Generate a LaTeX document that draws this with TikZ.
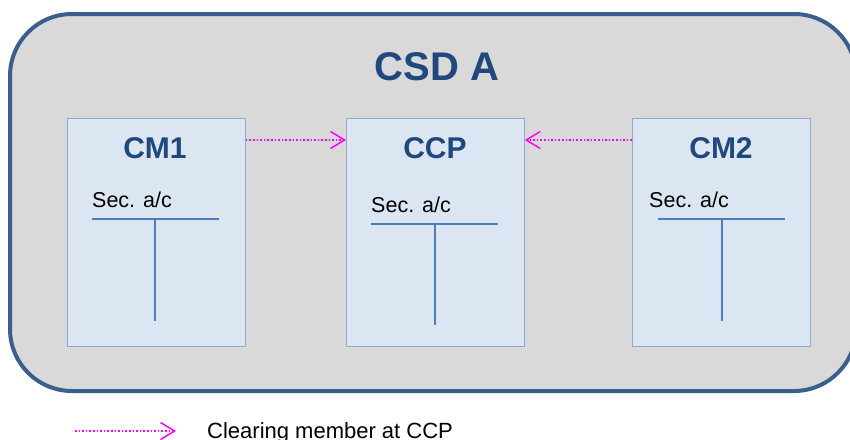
\documentclass[tikz,border=0pt]{standalone}
\usepackage{fontspec}
\setmainfont{Liberation Sans}
\usetikzlibrary{arrows.meta}
\definecolor{outerfill}{HTML}{D9D9D9}
\definecolor{outerline}{HTML}{3B5F8D}
\definecolor{boxfill}{HTML}{DCE6F2}
\definecolor{boxline}{HTML}{8EA9CD}
\definecolor{titleblue}{HTML}{1F497D}
\definecolor{tline}{HTML}{4A7EBB}
\definecolor{mag}{HTML}{FF00FF}
\tikzset{
  x=1pt, y=-1pt,
  membox/.style={draw=boxline, line width=0.8pt, fill=boxfill, minimum width=178pt, minimum height=228pt, inner sep=0pt, anchor=north west},
  boxtitle/.style={text=titleblue, font=\fontsize{30}{36}\selectfont\bfseries, inner sep=0pt, anchor=base},
  seclabel/.style={font=\fontsize{21.5}{26}\selectfont, inner sep=0pt, anchor=base west},
  tl/.style={draw=tline, line width=1.6pt},
  cmarrow/.style={draw=mag, line width=1.6pt, dotted, -{Straight Barb[length=14pt, width=17pt, line width=1.5pt]}},
}
\begin{document}
\begin{tikzpicture}
\useasboundingbox (0,0) rectangle (850,439);
\draw[fill=outerfill, draw=outerline, line width=4pt, rounded corners=62pt] (10,14) rectangle (856,391);
\node[text=titleblue, font=\fontsize{40}{48}\selectfont\bfseries, inner sep=0pt, anchor=base] (csd) at (437,80) {CSD A};
% boxes
\node[membox] (cm1) at (67,118) {};
\node[membox] (ccp) at (346,118) {};
\node[membox] (cm2) at (632,118) {};
\node[boxtitle] (cm1t) at (155,158) {CM1};
\node[boxtitle] (ccpt) at (435,158) {CCP};
\node[boxtitle] (cm2t) at (721,158) {CM2};
\node[seclabel] (s1) at (92,207) {Sec. a/c};
\node[seclabel] (s2) at (371,212) {Sec. a/c};
\node[seclabel] (s3) at (649,207) {Sec. a/c};
% T accounts
\coordinate (t1a) at (92,219); \coordinate (t1b) at (219,219);
\coordinate (t1c) at (155,219); \coordinate (t1d) at (155,321);
\draw[tl] (t1a) -- (t1b); \draw[tl] (t1c) -- (t1d);
\coordinate (t2a) at (371,224); \coordinate (t2b) at (498,224);
\coordinate (t2c) at (435,224); \coordinate (t2d) at (435,325);
\draw[tl] (t2a) -- (t2b); \draw[tl] (t2c) -- (t2d);
\coordinate (t3a) at (658,219); \coordinate (t3b) at (785,219);
\coordinate (t3c) at (722,219); \coordinate (t3d) at (722,321);
\draw[tl] (t3a) -- (t3b); \draw[tl] (t3c) -- (t3d);
% arrows
\coordinate (a1s) at (cm1.north east |- 0,140);
\coordinate (a1e) at (ccp.north west |- 0,140);
\coordinate (a2s) at (cm2.north west |- 0,140);
\coordinate (a2e) at (ccp.north east |- 0,140);
\draw[cmarrow] (a1s) -- (a1e);
\draw[cmarrow] (a2s) -- (a2e);
% legend
\coordinate (ls) at (75,431);
\coordinate (le) at (176,431);
\draw[cmarrow] (ls) -- (le);
\node[font=\fontsize{22}{26}\selectfont, inner sep=0pt, anchor=base west] (leg) at (207,438) {Clearing member at CCP};
\end{tikzpicture}
\end{document}
